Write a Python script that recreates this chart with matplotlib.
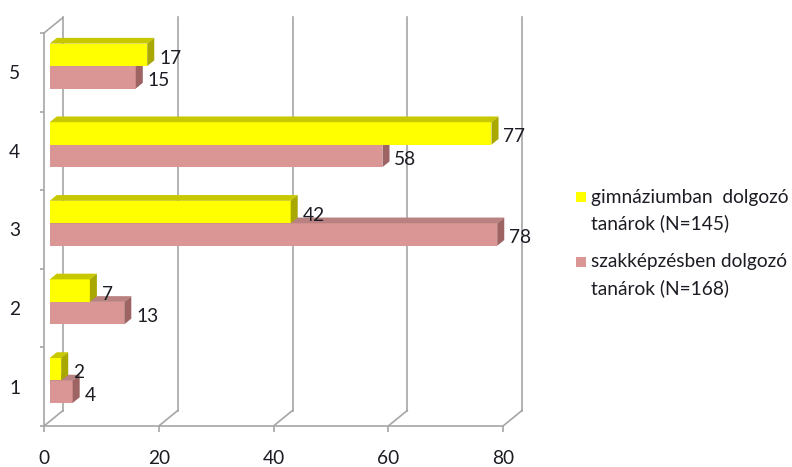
import matplotlib
matplotlib.use("Agg")
import matplotlib.pyplot as plt
from matplotlib.patches import Polygon, Rectangle

# adatok
categories = [1, 2, 3, 4, 5]
gimn = [2, 7, 42, 77, 17]
szakk = [4, 13, 78, 58, 15]
series_labels = ["gimnáziumban  dolgozó\ntanárok (N=145)",
                 "szakképzésben dolgozó\ntanárok (N=168)"]
x_ticks = [0, 20, 40, 60, 80]

plt.rcParams['font.family'] = ['Lato', 'DejaVu Sans']
txt_color = '#1c1c24'
grid_color = '#a6a6a6'
fs = 13.8

fig = plt.figure(figsize=(7.92, 4.67), dpi=100)
W, H = 792, 467
# front plane: value 0 at px 44, 80 at px 503 ; category 0.5 at py 426, 5.5 at py 33
ax = fig.add_axes([44 / W, (H - 426) / H, 459 / W, 393 / H])
ax.set_xlim(0, 80)
ax.set_ylim(0.5, 5.5)

# depth offset of the back wall, in data units
DX = 19 / (459 / 80)
DY = 15.5 / (393 / 5)

for s in ['top', 'right']:
    ax.spines[s].set_visible(False)
for s in ['left', 'bottom']:
    ax.spines[s].set_color(grid_color)
    ax.spines[s].set_linewidth(1.2)

ax.set_xticks(x_ticks)
ax.set_xticklabels([str(t) for t in x_ticks], fontsize=fs, color=txt_color)
ax.tick_params(axis='x', length=4, color=grid_color, width=1.2, pad=13)
ax.set_yticks(categories)
ax.set_yticklabels([str(c) for c in categories], fontsize=fs, color=txt_color)
ax.tick_params(axis='y', length=0, pad=17)
ax.set_yticks([c + 0.5 for c in [0] + categories], minor=True)
ax.tick_params(axis='y', which='minor', length=3, color=grid_color, width=1.2)

# back wall gridlines and floor diagonals
for t in x_ticks:
    ax.plot([t + DX, t + DX], [0.5 + DY, 5.5 + DY], color=grid_color, lw=1.2, clip_on=False, zorder=1)
    ax.plot([t, t + DX], [0.5, 0.5 + DY], color=grid_color, lw=1.2, clip_on=False, zorder=1)
ax.plot([0, DX], [5.5, 5.5 + DY], color=grid_color, lw=1.2, clip_on=False, zorder=1)

# 3D bars
d1, d2 = 0.3, 0.67
bh = 0.286


def p(x, y, d):
    return (x + d * DX, y + d * DY)


def bar3d(v, y0, front, top, side):
    y1 = y0 + bh
    faces = [
        ([p(0, y0, d1), p(v, y0, d1), p(v, y1, d1), p(0, y1, d1)], front),
        ([p(0, y1, d1), p(v, y1, d1), p(v, y1, d2), p(0, y1, d2)], top),
        ([p(v, y0, d1), p(v, y0, d2), p(v, y1, d2), p(v, y1, d1)], side),
    ]
    for pts, col in faces:
        ax.add_patch(Polygon(pts, closed=True, facecolor=col, edgecolor='none',
                             clip_on=False, zorder=3))
    xl, yl = p(v, y0 + bh / 2, d1)
    ax.annotate(str(v), xy=(v + d2 * DX, yl), xytext=(3.5, -2.5), textcoords='offset points',
                va='center', ha='left', fontsize=fs, color=txt_color, zorder=4,
                annotation_clip=False)


yellow = ('#ffff00', '#c8c800', '#a8a800')
pink = ('#d99694', '#b98280', '#9e6464')

for c, g, s in zip(categories, gimn, szakk):
    bar3d(s, c - bh + 0.02, *pink)
    bar3d(g, c + 0.02, *yellow)

# legend
for i, (lab, col) in enumerate(zip(series_labels, [yellow[0], pink[0]])):
    ytop = 192 + i * 65
    fig.add_artist(Rectangle((576 / W, (H - ytop - 10) / H), 10 / W, 10 / H,
                             facecolor=col, edgecolor='none', transform=fig.transFigure))
    fig.text(591 / W, (H - ytop - 5) / H, lab.split('\n')[0], fontsize=fs, color=txt_color,
             va='center', ha='left')
    fig.text(591 / W, (H - ytop - 31) / H, lab.split('\n')[1], fontsize=fs, color=txt_color,
             va='center', ha='left')

fig.savefig('out.png', dpi=100)
